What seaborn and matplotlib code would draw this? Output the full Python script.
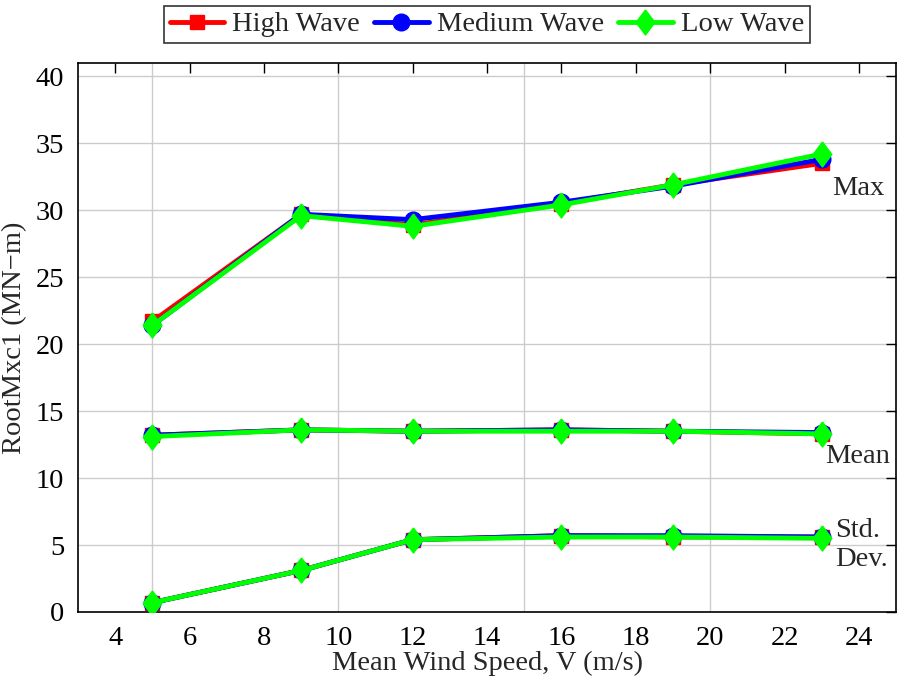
import matplotlib
matplotlib.use("Agg")
import matplotlib.pyplot as plt
from matplotlib.ticker import MultipleLocator
import seaborn as sns
import pandas as pd

wind_speed = [5, 9, 12, 16, 19, 23]

high_max = [21.7, 29.7, 28.9, 30.5, 31.9, 33.5]
med_max = [21.4, 29.7, 29.3, 30.6, 31.8, 33.8]
low_max = [21.4, 29.6, 28.8, 30.4, 31.9, 34.2]

high_mean = [13.2, 13.6, 13.5, 13.6, 13.5, 13.3]
med_mean = [13.2, 13.6, 13.5, 13.6, 13.5, 13.4]
low_mean = [13.1, 13.6, 13.5, 13.5, 13.5, 13.3]

high_std = [0.7, 3.1, 5.4, 5.7, 5.6, 5.6]
med_std = [0.7, 3.1, 5.4, 5.7, 5.7, 5.6]
low_std = [0.7, 3.1, 5.4, 5.6, 5.6, 5.5]

x_grid = [5, 10, 15, 20]

diamond = [(0, 1), (0.75, 0), (0, -1), (-0.75, 0), (0, 1)]

series = {
    "High Wave": [high_max, high_mean, high_std],
    "Medium Wave": [med_max, med_mean, med_std],
    "Low Wave": [low_max, low_mean, low_std],
}
styles = {
    "High Wave": dict(color="#ff0000", marker="s", markersize=10),
    "Medium Wave": dict(color="#0000ff", marker="o", markersize=12),
    "Low Wave": dict(color="#00ff00", marker=diamond, markersize=18),
}

sns.set_theme(style="white")
plt.rcParams["font.family"] = ["Liberation Serif", "DejaVu Serif"]

FS = 20.5

fig = plt.figure(figsize=(8.97, 6.85), dpi=100)
ax = fig.add_axes([0.087, 0.1066, 0.912, 0.8015])

for name, stats in series.items():
    st = styles[name]
    for i, vals in enumerate(stats):
        df = pd.DataFrame({"x": wind_speed, "y": vals})
        sns.lineplot(data=df, x="x", y="y", ax=ax, color=st["color"],
                     marker=st["marker"], markersize=st["markersize"],
                     markeredgecolor=st["color"], markerfacecolor=st["color"],
                     markeredgewidth=1,
                     linewidth=3.5, label=name if i == 0 else None, zorder=3)

ax.set_xlim(3, 25)
ax.set_ylim(0, 41)
ax.xaxis.set_major_locator(MultipleLocator(2))
ax.yaxis.set_major_locator(MultipleLocator(5))
ax.grid(False)
ax.grid(True, which="major", axis="y", color="#cccccc", linewidth=1)
for xv in x_grid:
    ax.axvline(xv, color="#cccccc", linewidth=1, zorder=0.5)
ax.tick_params(axis="both", which="major", direction="in", length=7, width=1,
               top=True, right=True, labelsize=FS, colors="black", pad=10)
for s in ax.spines.values():
    s.set_color("black")
    s.set_linewidth(1.2)

ax.set_xlabel("Mean Wind Speed, V (m/s)", fontsize=FS, labelpad=0)
ax.set_ylabel("RootMxc1 (MN\u2212m)", fontsize=FS, labelpad=6)

ax.text(23.97, 31.6, "Max", fontsize=FS, ha="center", va="center")
ax.text(23.97, 11.6, "Mean", fontsize=FS, ha="center", va="center")
ax.text(23.35, 5.0, "Std.\nDev.", fontsize=FS, ha="left", va="center", linespacing=1.2)

leg = ax.legend(loc="lower center", bbox_to_anchor=(0.5, 1.036), ncol=3,
                fontsize=FS, frameon=True, fancybox=False, edgecolor="black",
                handlelength=1.9, handletextpad=0.3, columnspacing=0.5,
                borderpad=0.2, borderaxespad=0)
leg.get_frame().set_linewidth(1.2)

fig.savefig("out.png", dpi=100, facecolor="white")
